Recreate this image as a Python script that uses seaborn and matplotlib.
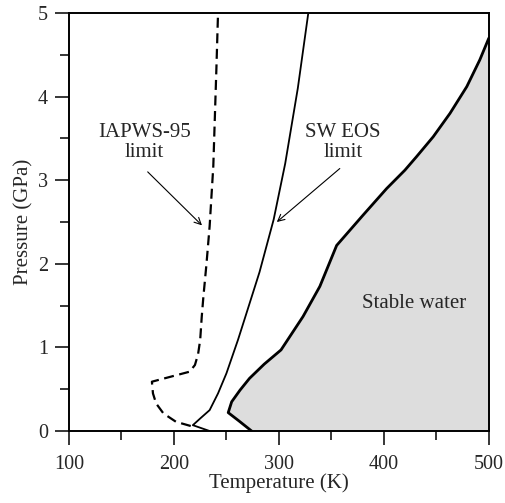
import numpy as np
import pandas as pd
import matplotlib
matplotlib.use("Agg")
import matplotlib.pyplot as plt
import seaborn as sns

# IAPWS-95 limit (dashed), temperature in K, pressure in GPa
iapws_T = [216, 202, 190, 183, 180, 179, 215, 220, 223, 225, 226.5, 228, 231, 234, 237.5, 240.5, 242]
iapws_P = [0.06, 0.11, 0.21, 0.33, 0.45, 0.59, 0.71, 0.79, 0.92, 1.09, 1.37, 1.6, 2.0, 2.45, 3.17, 4.36, 5.0]

# SW EOS limit (thin solid)
sw_T = [234, 218, 225, 234, 242, 250, 261, 267.6, 281.5, 295, 306, 318, 328]
sw_P = [0.0, 0.07, 0.15, 0.25, 0.45, 0.69, 1.09, 1.35, 1.9, 2.53, 3.2, 4.1, 5.0]

# stable water boundary (thick solid)
stab_T = [274, 262, 251.7, 255, 263, 272, 286, 302, 323, 339, 355, 380, 402.6, 420, 431, 447, 463, 479, 491.4, 500]
stab_P = [0.0, 0.12, 0.22, 0.35, 0.49, 0.63, 0.80, 0.97, 1.37, 1.73, 2.22, 2.58, 2.90, 3.12, 3.28, 3.52, 3.80, 4.12, 4.44, 4.70]

x_major = [100, 200, 300, 400, 500]
y_major = [0, 1, 2, 3, 4, 5]

sns.set_theme(style="ticks")
plt.rcParams["font.family"] = ["Liberation Serif", "DejaVu Serif"]

fig = plt.figure(figsize=(5.05, 5.03), dpi=100)
ax = fig.add_axes([0.1366, 0.1431, 0.8314, 0.831])

df_stab = pd.DataFrame({"T": stab_T, "P": stab_P})
df_sw = pd.DataFrame({"T": sw_T, "P": sw_P})
df_iap = pd.DataFrame({"T": iapws_T, "P": iapws_P})

ax.fill_betweenx(df_stab["P"], df_stab["T"], 500, color="#dddddd", lw=0, zorder=1)

sns.lineplot(data=df_stab, x="T", y="P", sort=False, estimator=None,
             color="black", lw=2.0, ax=ax, zorder=3)
sns.lineplot(data=df_sw, x="T", y="P", sort=False, estimator=None,
             color="black", lw=1.3, ax=ax, zorder=3)
sns.lineplot(data=df_iap, x="T", y="P", sort=False, estimator=None,
             color="black", lw=1.6, ax=ax, zorder=3)
ax.lines[-1].set_dashes((4.5, 2.5))
for ln in ax.lines:
    ln.set_solid_joinstyle("round")

ax.set_xlim(100, 500)
ax.set_ylim(0, 5)
ax.set_xticks(x_major)
ax.set_yticks(y_major)
ax.set_xticks(np.arange(150, 500, 100), minor=True)
ax.set_yticks(np.arange(0.5, 5, 1.0), minor=True)
ax.tick_params(which="major", length=10, width=1.1, direction="out", labelsize=14.5, color="black")
ax.tick_params(which="minor", length=6.5, width=1.1, direction="out", color="black")
ax.tick_params(axis="x", which="major", pad=7)
ax.tick_params(axis="y", which="major", pad=5)
for s in ax.spines.values():
    s.set_visible(True)
    s.set_linewidth(1.4)
    s.set_color("black")
    s.set_zorder(5)

ax.set_xlabel("Temperature (K)", fontsize=15, labelpad=0)
ax.set_ylabel("Pressure (GPa)", fontsize=15, labelpad=3)

ax.text(172, 3.45, "IAPWS-95\nlimit", ha="center", va="center", fontsize=15, linespacing=1.05)
ax.text(361, 3.45, "SW EOS\nlimit", ha="center", va="center", fontsize=15, linespacing=1.05)
ax.text(429, 1.52, "Stable water", ha="center", va="center", fontsize=15)

arrow = dict(arrowstyle="->", lw=0.8, color="black", shrinkA=0, shrinkB=0)
ax.annotate("", xy=(226.7, 2.46), xytext=(175, 3.1), arrowprops=arrow)
ax.annotate("", xy=(298, 2.50), xytext=(358, 3.14), arrowprops=arrow)

fig.savefig("out.png", dpi=100)
